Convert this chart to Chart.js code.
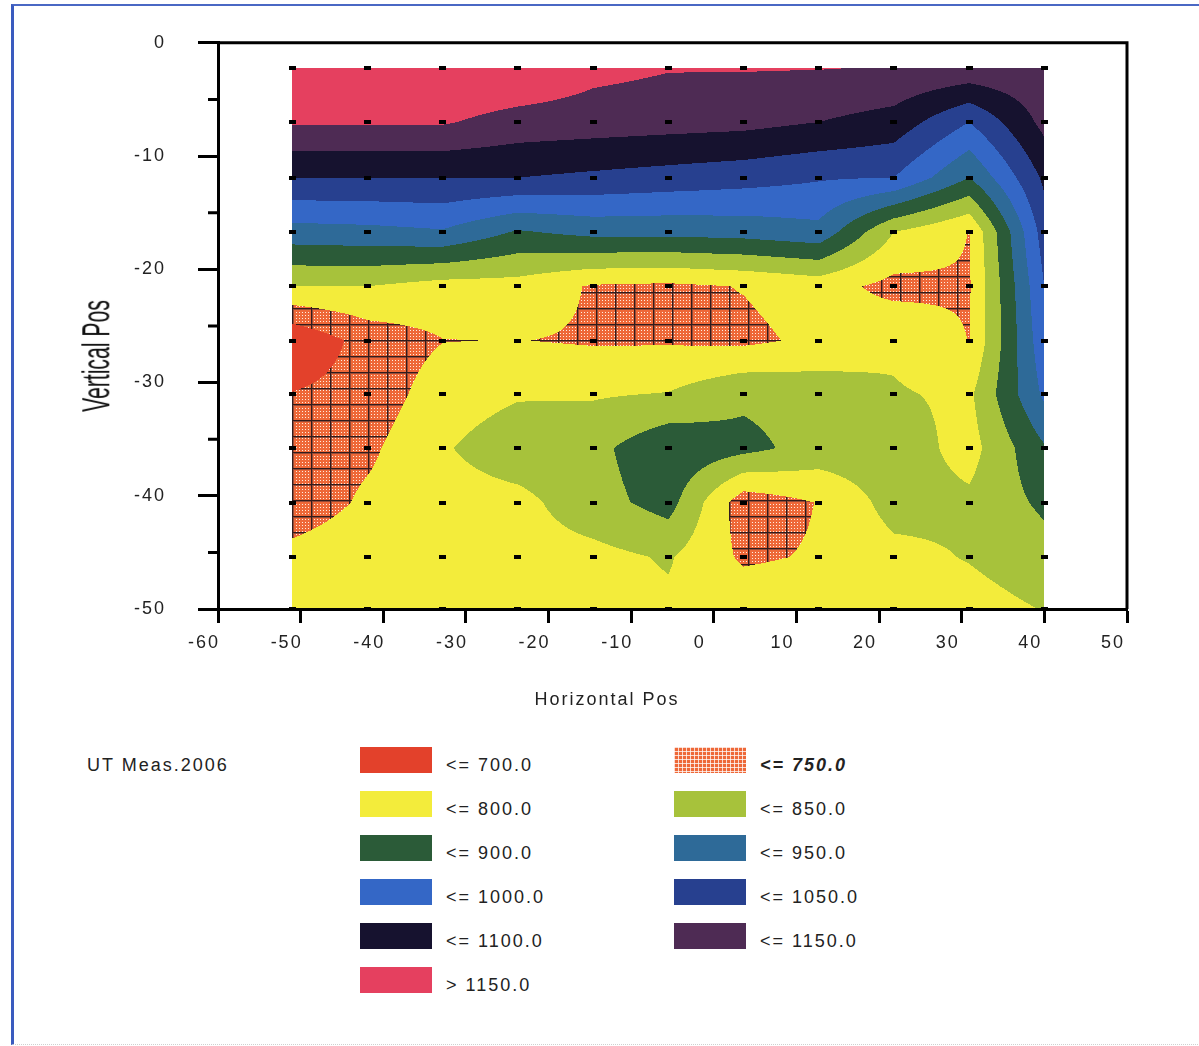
<!DOCTYPE html>
<html>
<head>
<meta charset="utf-8">
<title>UT Meas.2006</title>
<script src="https://cdn.jsdelivr.net/npm/chart.js@4.4.0/dist/chart.umd.min.js"></script>
<style>
  body { margin: 0; background: #fff; font-family: 'Liberation Sans', Arial, sans-serif; color: #222; }
  #page { position: relative; width: 1199px; height: 1046px; overflow: hidden; }
  #frame { position: absolute; left: 11px; top: 4px; width: 1200px; height: 1038px;
           border-left: 3px solid #3a5bbf; border-top: 2px solid #4a68c4; border-bottom: 1px dotted #d0d0d0; }
  #chartBox { position: absolute; left: 0; top: 0; width: 1199px; height: 710px; }
  .lbl { position: absolute; font-size: 18px; letter-spacing: 2px; white-space: nowrap; line-height: 20px; }
  .sw { position: absolute; width: 72px; height: 26px; }
  #ytitle { position: absolute; font-family: 'Liberation Sans Narrow', 'Liberation Sans', Arial, sans-serif;
            font-size: 38px; line-height: 38px; white-space: nowrap; color: #111; }
</style>
</head>
<body>
<div id="page">
  <div id="frame"></div>
  <div id="chartBox"><canvas id="chart" width="1199" height="710"></canvas></div>
  <div id="ytitle">Vertical Pos</div>
  <div id="xtitle" class="lbl" style="left:457px; top:689px; width:300px; text-align:center;">Horizontal Pos</div>
  <div id="legend"></div>
</div>
<script>
// Measuring grid positions
const xPos = [-51, -41.9, -32.8, -23.7, -14.6, -5.5, 3.6, 12.7, 21.8, 30.9, 40];
const yPos = [-2.2, -7.0, -11.9, -16.7, -21.5, -26.3, -31.0, -35.8, -40.6, -45.4, -50];

// UT readings, one row per vertical position (top to bottom), one value per horizontal position
const readings = [
  [1200, 1200, 1200, 1200, 1165, 1153, 1153, 1152, 1148, 1140, 1140],
  [1155, 1155, 1155, 1130, 1125, 1120, 1115, 1100, 1080, 1000, 1115],
  [1050, 1050, 1050, 1050, 1040, 1030, 1020, 1005, 1000,  900, 1060],
  [ 930,  935,  945,  895,  915,  915,  920,  935,  800,  749, 1025],
  [ 800,  800,  780,  780,  745,  740,  752,  770,  735,  745, 1000],
  [ 655,  720,  749,  751,  745,  745,  740,  760,  790,  749,  985],
  [ 702,  720,  775,  795,  795,  802,  840,  830,  805,  790,  960],
  [ 720,  740,  795,  830,  835,  890,  865,  830,  830,  780,  895],
  [ 715,  760,  780,  785,  830,  870,  720,  752,  820,  810,  860],
  [ 768,  788,  780,  780,  785,  805,  742,  755,  785,  803,  830],
  [ 790,  790,  785,  785,  780,  790,  785,  785,  780,  780,  802]
];

// Contour levels and band colours (band i holds values <= levels[i], last band > 1150)
const levels = [700, 750, 800, 850, 900, 950, 1000, 1050, 1100, 1150];
const bandColors = ['#e3412b', '#ee6838', '#f3ec3b', '#a7c23b', '#2b5b38', '#2e6a98',
                    '#3467c6', '#27408f', '#16122f', '#4e2b54', '#e5405f'];
const hatchBand = 1;
const bandLabels = levels.map(v => '<= ' + v.toFixed(1)).concat(['> ' + levels[levels.length - 1].toFixed(1)]);
const legendTitle = 'UT Meas.2006';

// Axis ranges and ticks
const xRange = [-60, 50];
const yRange = [-50, 0];
const yMinorTicks = [-5, -15, -25, -35, -45];

function hexToRgb(hex) {
  const n = parseInt(hex.slice(1), 16);
  return [(n >> 16) & 255, (n >> 8) & 255, n & 255];
}

// Filled contours, interpolated between grid nodes through the chart scales
const contourPlugin = {
  id: 'contour',
  beforeDatasetsDraw(chart) {
    const { ctx, scales: { x, y } } = chart;
    const left = Math.round(x.getPixelForValue(xPos[0]));
    const right = Math.round(x.getPixelForValue(xPos[xPos.length - 1]));
    const top = Math.round(y.getPixelForValue(yPos[0]));
    const bottom = Math.round(y.getPixelForValue(yPos[yPos.length - 1]));
    const w = right - left, h = bottom - top;
    const off = document.createElement('canvas');
    off.width = w; off.height = h;
    const octx = off.getContext('2d');
    const img = octx.createImageData(w, h);
    const rgb = bandColors.map(hexToRgb);

    const ci = [], cs = [];
    for (let px = 0; px < w; px++) {
      const v = x.getValueForPixel(left + px + 0.5);
      let i = 0;
      while (i < xPos.length - 2 && v > xPos[i + 1]) i++;
      ci.push(i);
      cs.push(Math.min(1, Math.max(0, (v - xPos[i]) / (xPos[i + 1] - xPos[i]))));
    }
    const rj = [], rt = [];
    for (let py = 0; py < h; py++) {
      const v = y.getValueForPixel(top + py + 0.5);
      let j = 0;
      while (j < yPos.length - 2 && v < yPos[j + 1]) j++;
      rj.push(j);
      rt.push(Math.min(1, Math.max(0, (yPos[j] - v) / (yPos[j] - yPos[j + 1]))));
    }

    let k = 0;
    for (let py = 0; py < h; py++) {
      const j = rj[py], t = rt[py];
      const r0 = readings[j], r1 = readings[j + 1];
      for (let px = 0; px < w; px++) {
        const i = ci[px], s = cs[px];
        const z = (1 - s) * (1 - t) * r0[i] + s * (1 - t) * r0[i + 1] +
                  (1 - s) * t * r1[i] + s * t * r1[i + 1];
        let b = 0;
        while (b < levels.length && z > levels[b]) b++;
        let c = rgb[b];
        if (b === hatchBand) {
          const gx = px % 19, gy = py % 16;
          if (gx === 0 || gy === 0) c = [50, 28, 28];
          else if (gx === 1 || gy === 1) c = [150, 75, 55];
          else if (px % 3 === 1 && py % 3 === 1) c = [255, 236, 222];
        }
        img.data[k++] = c[0]; img.data[k++] = c[1]; img.data[k++] = c[2]; img.data[k++] = 255;
      }
    }
    octx.putImageData(img, 0, 0);
    ctx.drawImage(off, left, top);
  }
};

// Top and right frame lines plus minor ticks on the vertical axis
const framePlugin = {
  id: 'frame',
  beforeDraw(chart) {
    chart.ctx.letterSpacing = '2px';
  },
  afterDraw(chart) {
    const { ctx, chartArea: a, scales: { y } } = chart;
    ctx.save();
    ctx.strokeStyle = '#000';
    ctx.lineWidth = 3;
    ctx.beginPath();
    ctx.moveTo(a.left, a.top);
    ctx.lineTo(a.right, a.top);
    ctx.lineTo(a.right, a.bottom);
    yMinorTicks.forEach(v => {
      const py = y.getPixelForValue(v);
      ctx.moveTo(a.left - 10, py);
      ctx.lineTo(a.left, py);
    });
    ctx.stroke();
    ctx.restore();
  }
};

// Black square marker at every measuring node
const marker = document.createElement('canvas');
marker.width = 7; marker.height = 4;
const mctx = marker.getContext('2d');
mctx.fillStyle = '#000';
mctx.fillRect(0, 0, 7, 4);

const nodes = [];
yPos.forEach(yv => xPos.forEach(xv => nodes.push({ x: xv, y: yv })));

Chart.defaults.font.family = "'Liberation Sans', Arial, sans-serif";
Chart.defaults.font.size = 18;
Chart.defaults.color = '#222';

new Chart(document.getElementById('chart'), {
  type: 'scatter',
  data: {
    datasets: [{
      data: nodes,
      pointStyle: marker,
      pointRadius: 3,
      pointHoverRadius: 3,
      clip: false
    }]
  },
  options: {
    responsive: false,
    animation: false,
    events: [],
    layout: { padding: { top: 42, right: 72, left: 0, bottom: 0 } },
    plugins: { legend: { display: false }, tooltip: { enabled: false } },
    scales: {
      x: {
        type: 'linear',
        min: xRange[0],
        max: xRange[1],
        afterFit(scale) { scale.height = 101; },
        ticks: { stepSize: 10, labelOffset: -14, padding: 9, color: '#222' },
        grid: { drawOnChartArea: false, tickLength: 14, tickWidth: 3, tickColor: '#000', color: '#000' },
        border: { color: '#000', width: 3, z: 1 }
      },
      y: {
        type: 'linear',
        min: yRange[0],
        max: yRange[1],
        afterFit(scale) { scale.width = 218; },
        ticks: { stepSize: 10, padding: 32, color: '#222' },
        grid: { drawOnChartArea: false, tickLength: 20, tickWidth: 3, tickColor: '#000', color: '#000' },
        border: { color: '#000', width: 3, z: 1 }
      }
    }
  },
  plugins: [contourPlugin, framePlugin]
});

// Legend built as page text
const legend = document.getElementById('legend');
function addLabel(text, left, top, extra) {
  const d = document.createElement('div');
  d.className = 'lbl';
  d.textContent = text;
  d.style.left = left + 'px';
  d.style.top = top + 'px';
  if (extra) Object.assign(d.style, extra);
  legend.appendChild(d);
}
addLabel(legendTitle, 87, 755);
bandLabels.forEach((label, b) => {
  const col = b % 2, row = Math.floor(b / 2);
  const sw = document.createElement('div');
  sw.className = 'sw';
  sw.style.left = (col ? 674 : 360) + 'px';
  sw.style.top = (747 + row * 44) + 'px';
  sw.style.background = bandColors[b];
  if (b === hatchBand) {
    sw.style.backgroundImage = 'linear-gradient(90deg, rgba(255,255,255,0.75) 1px, transparent 1px),' +
                               'linear-gradient(rgba(255,255,255,0.75) 1px, transparent 1px)';
    sw.style.backgroundSize = '4px 4px';
  }
  legend.appendChild(sw);
  addLabel(label, col ? 760 : 446, 755 + row * 44,
           b === hatchBand ? { fontWeight: 'bold', fontStyle: 'italic' } : null);
});

// Vertical axis title, stretched like the original
const yt = document.getElementById('ytitle');
const tw = yt.offsetWidth, th = yt.offsetHeight;
yt.style.left = (96 - tw / 2) + 'px';
yt.style.top = (356 - th / 2) + 'px';
yt.style.transform = 'rotate(-90deg) scaleX(' + (112 / tw) + ')';
</script>
</body>
</html>
